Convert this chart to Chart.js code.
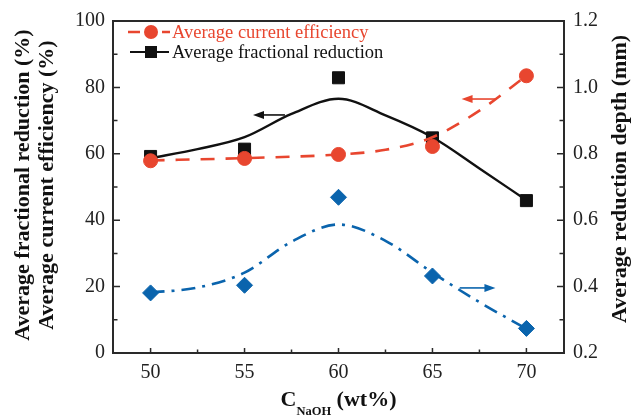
<!DOCTYPE html>
<html>
<head>
<meta charset="utf-8">
<script src="https://cdn.jsdelivr.net/npm/chart.js@4"></script>
<style>
  html, body { margin: 0; padding: 0; background: #fff; }
  #wrap { width: 631px; height: 418px; }
</style>
</head>
<body>
<div id="wrap"><canvas id="naohChart"></canvas></div>
<script>
// measured points, NaOH concentration (wt%)
const naohConc = [50, 55, 60, 65, 70];
const currentEfficiency = [57.9, 58.6, 59.8, 62.2, 83.5];
const fractionalReduction = [59.2, 61.4, 82.9, 64.8, 45.9];
const reductionDepth = [0.381, 0.404, 0.669, 0.432, 0.274];

// trend lines
const fitX = [50, 52.5, 55, 57.5, 60, 62.5, 65, 67.5, 70];
const fractionalFit = [58.7, 61.4, 65.0, 72.0, 76.6, 71.6, 65.0, 55.6, 46.0];
const depthFit = [0.382, 0.397, 0.442, 0.535, 0.587, 0.538, 0.442, 0.353, 0.273];
const efficiencyFitX = [50, 55, 60, 62.5, 65, 67.5, 70];
const efficiencyFit = [58.0, 58.7, 59.8, 61.2, 65.0, 73.0, 83.5];

// axis ticks
const xTicks = [50, 55, 60, 65, 70];
const xMinorTicks = [52.5, 57.5, 62.5, 67.5];
const yLeftTicks = [0, 20, 40, 60, 80, 100];
const yLeftMinor = [10, 30, 50, 70, 90];
const yRightTicks = [0.2, 0.4, 0.6, 0.8, 1.0, 1.2];
const yRightMinor = [0.3, 0.5, 0.7, 0.9, 1.1];

// little arrows pointing each curve to its axis: [x0, x1, y, axis, color]
const arrows = [
    [57.15, 55.45, 71.7, 'y', '#111111'],
    [68.35, 66.55, 76.5, 'y', '#e8462f'],
    [66.45, 68.35, 0.396, 'y2', '#0a64ad']
];

const RED = '#e8462f';
const BLACK = '#111111';
const BLUE = '#0a64ad';
const AXIS = '#2a2a2a';
const SERIF = "'Liberation Serif', 'Times New Roman', serif";

const pts = (xs, ys) => xs.map((x, i) => ({ x: x, y: ys[i] }));

// draws the frame, inward ticks, arrows, legend and axis titles
const decorations = {
    id: 'decorations',
    afterDraw(chart) {
        const ctx = chart.ctx;
        const a = chart.chartArea;
        const sx = chart.scales.x, sy = chart.scales.y, sy2 = chart.scales.y2;
        ctx.save();

        // frame
        ctx.strokeStyle = AXIS;
        ctx.lineWidth = 2;
        ctx.strokeRect(a.left, a.top, a.right - a.left, a.bottom - a.top);

        // ticks pointing inside
        ctx.lineWidth = 1.5;
        ctx.beginPath();
        xTicks.forEach(v => { const p = sx.getPixelForValue(v); ctx.moveTo(p, a.bottom); ctx.lineTo(p, a.bottom - 5); });
        xMinorTicks.forEach(v => { const p = sx.getPixelForValue(v); ctx.moveTo(p, a.bottom); ctx.lineTo(p, a.bottom - 3.5); });
        yLeftTicks.forEach(v => { const p = sy.getPixelForValue(v); ctx.moveTo(a.left, p); ctx.lineTo(a.left + 7, p); });
        yLeftMinor.forEach(v => { const p = sy.getPixelForValue(v); ctx.moveTo(a.left, p); ctx.lineTo(a.left + 4.5, p); });
        yRightTicks.forEach(v => { const p = sy2.getPixelForValue(v); ctx.moveTo(a.right, p); ctx.lineTo(a.right - 7, p); });
        yRightMinor.forEach(v => { const p = sy2.getPixelForValue(v); ctx.moveTo(a.right, p); ctx.lineTo(a.right - 4.5, p); });
        ctx.stroke();

        // arrows
        arrows.forEach(([x0, x1, yv, axis, col]) => {
            const px0 = sx.getPixelForValue(x0), px1 = sx.getPixelForValue(x1);
            const py = chart.scales[axis].getPixelForValue(yv);
            const dir = Math.sign(px1 - px0);
            ctx.strokeStyle = col;
            ctx.fillStyle = col;
            ctx.lineWidth = 1.6;
            ctx.beginPath();
            ctx.moveTo(px0, py);
            ctx.lineTo(px1 - dir * 8, py);
            ctx.stroke();
            ctx.beginPath();
            ctx.moveTo(px1, py);
            ctx.lineTo(px1 - dir * 11, py - 4);
            ctx.lineTo(px1 - dir * 11, py + 4);
            ctx.closePath();
            ctx.fill();
        });

        // legend
        const legendRows = [
            { y: 32, color: RED, dashed: true, text: 'Average current efficiency', mark: 'circle' },
            { y: 52, color: BLACK, dashed: false, text: 'Average fractional reduction', mark: 'rect' }
        ];
        legendRows.forEach(r => {
            ctx.strokeStyle = r.color;
            ctx.fillStyle = r.color;
            ctx.lineWidth = r.dashed ? 2.5 : 2.2;
            ctx.beginPath();
            if (r.dashed) {
                ctx.moveTo(128, r.y); ctx.lineTo(140, r.y);
                ctx.moveTo(162, r.y); ctx.lineTo(170, r.y);
            } else {
                ctx.moveTo(130, r.y); ctx.lineTo(169, r.y);
            }
            ctx.stroke();
            if (r.mark === 'circle') {
                ctx.beginPath(); ctx.arc(151, r.y, 7, 0, Math.PI * 2); ctx.fill();
            } else {
                ctx.fillRect(145, r.y - 6, 12, 12);
            }
            ctx.font = '18.5px ' + SERIF;
            ctx.textAlign = 'left';
            ctx.textBaseline = 'middle';
            ctx.fillText(r.text, 172, r.y + 1);
        });

        // axis titles
        ctx.fillStyle = '#111';
        ctx.font = 'bold 22px ' + SERIF;
        ctx.textAlign = 'center';
        ctx.textBaseline = 'middle';
        [['Average fractional reduction (%)', 23], ['Average current efficiency (%)', 47]].forEach(([t, x]) => {
            ctx.save(); ctx.translate(x, 185); ctx.rotate(-Math.PI / 2); ctx.fillText(t, 0, 0); ctx.restore();
        });
        ctx.save(); ctx.translate(620, 179); ctx.rotate(-Math.PI / 2);
        ctx.fillText('Average reduction depth (mm)', 0, 0); ctx.restore();

        // x title with subscript
        const big = 'bold 22px ' + SERIF, small = 'bold 12.5px ' + SERIF;
        ctx.textAlign = 'left';
        ctx.textBaseline = 'alphabetic';
        ctx.font = big; const wC = ctx.measureText('C').width; const wU = ctx.measureText(' (wt%)').width;
        ctx.font = small; const wS = ctx.measureText('NaOH').width;
        let x0 = (a.left + a.right) / 2 - (wC + wS + wU) / 2;
        ctx.font = big; ctx.fillText('C', x0, 406);
        ctx.font = small; ctx.fillText('NaOH', x0 + wC, 415);
        ctx.font = big; ctx.fillText(' (wt%)', x0 + wC + wS, 406);

        ctx.restore();
    }
};

const tickFont = { family: SERIF, size: 20 };

new Chart(document.getElementById('naohChart'), {
    type: 'line',
    data: {
        datasets: [
            { data: pts(efficiencyFitX, efficiencyFit), yAxisID: 'y', borderColor: RED, borderWidth: 2.6,
              borderDash: [14, 11], pointRadius: 0, cubicInterpolationMode: 'monotone', fill: false },
            { data: pts(naohConc, currentEfficiency), yAxisID: 'y', showLine: false, pointStyle: 'circle',
              pointRadius: 7, pointBackgroundColor: RED, pointBorderColor: RED, pointBorderWidth: 1 },
            { data: pts(naohConc, fractionalReduction), yAxisID: 'y', showLine: false, pointStyle: 'rect',
              pointRadius: 8.5, pointBackgroundColor: BLACK, pointBorderColor: BLACK, pointBorderWidth: 1 },
            { data: pts(fitX, fractionalFit), yAxisID: 'y', borderColor: BLACK, borderWidth: 2.4,
              pointRadius: 0, cubicInterpolationMode: 'monotone', fill: false },
            { data: pts(naohConc, reductionDepth), yAxisID: 'y2', showLine: false, pointStyle: 'rectRot',
              pointRadius: 8, pointBackgroundColor: BLUE, pointBorderColor: BLUE, pointBorderWidth: 1 },
            { data: pts(fitX, depthFit), yAxisID: 'y2', borderColor: BLUE, borderWidth: 2.6,
              borderDash: [14, 7, 3, 7], pointRadius: 0, cubicInterpolationMode: 'monotone', fill: false }
        ]
    },
    options: {
        responsive: true,
        maintainAspectRatio: false,
        animation: false,
        layout: { padding: { top: 17, left: 0, right: 0, bottom: 0 } },
        plugins: { legend: { display: false }, tooltip: { enabled: false } },
        scales: {
            x: {
                type: 'linear', min: 48, max: 72,
                afterBuildTicks: s => { s.ticks = xTicks.map(v => ({ value: v })); },
                afterFit: s => { s.height = 65; },
                ticks: { font: tickFont, color: '#222', padding: 8, maxRotation: 0 },
                grid: { display: false, drawTicks: false },
                border: { display: false }
            },
            y: {
                position: 'left', min: 0, max: 100,
                afterBuildTicks: s => { s.ticks = yLeftTicks.map(v => ({ value: v })); },
                afterFit: s => { s.width = 113; },
                ticks: { font: tickFont, color: '#222', padding: 8 },
                grid: { display: false, drawTicks: false },
                border: { display: false }
            },
            y2: {
                position: 'right', min: 0.2, max: 1.2,
                afterBuildTicks: s => { s.ticks = yRightTicks.map(v => ({ value: v })); },
                afterFit: s => { s.width = 67; },
                ticks: { font: tickFont, color: '#222', padding: 9, callback: v => v.toFixed(1) },
                grid: { display: false, drawTicks: false },
                border: { display: false }
            }
        }
    },
    plugins: [decorations]
});
</script>
</body>
</html>
